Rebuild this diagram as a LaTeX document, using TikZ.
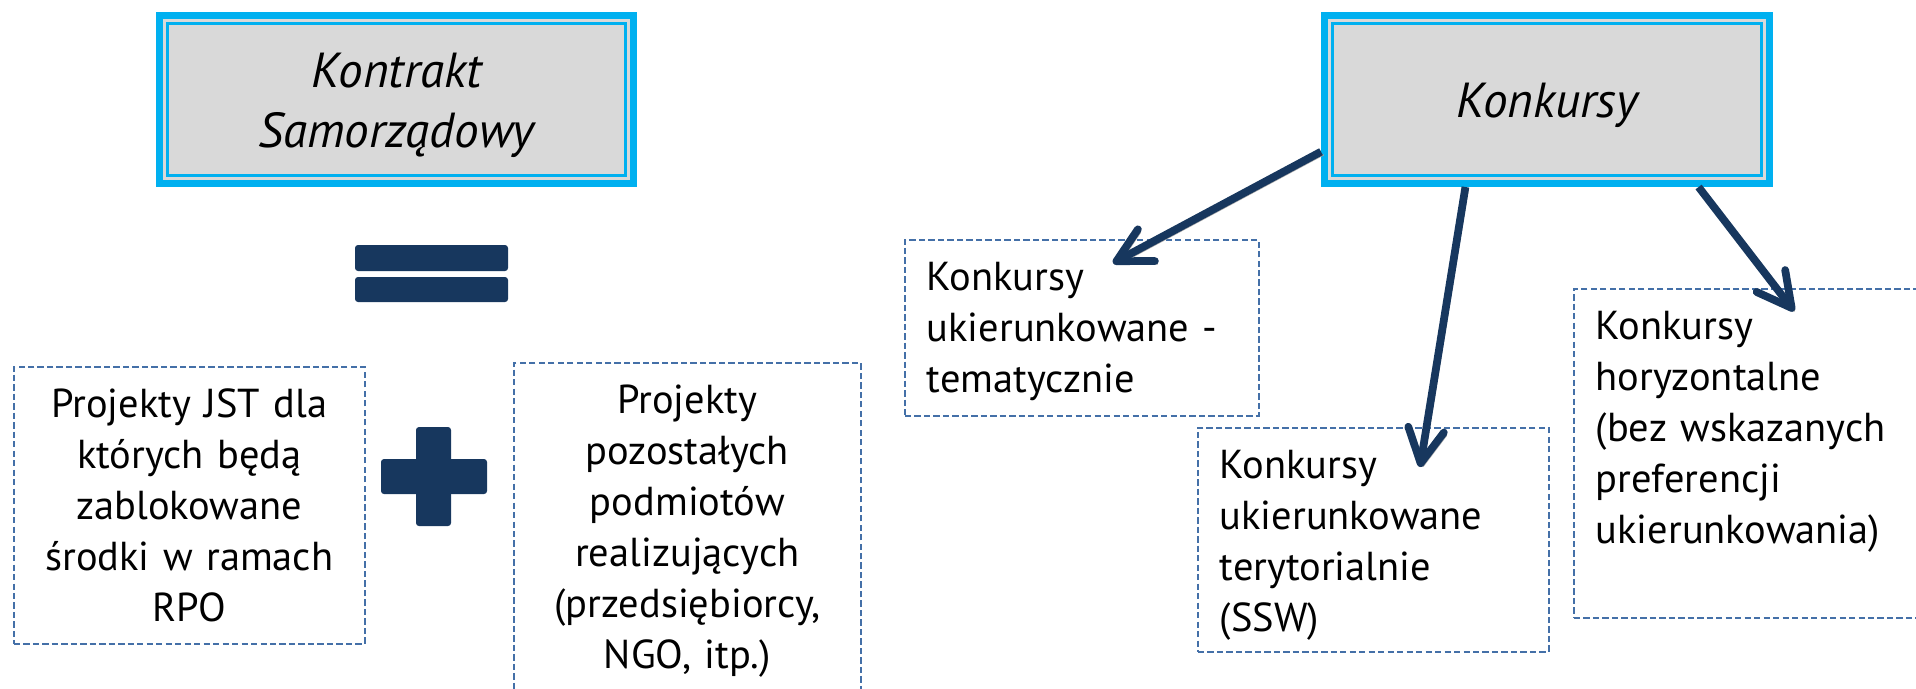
\documentclass[tikz,border=0pt]{standalone}
\usepackage{fontspec}
\setmainfont{PT Sans}
\usetikzlibrary{arrows.meta,positioning}
\definecolor{mycyan}{RGB}{0,176,240}
\definecolor{mygray}{RGB}{217,217,217}
\definecolor{mynavy}{RGB}{23,55,94}
\definecolor{mydashblue}{RGB}{68,112,168}
\newcommand{\fontbox}{\fontsize{11.5}{14.5}\selectfont}
\newcommand{\fonttitle}{\fontsize{14}{17}\selectfont\itshape}
\newcommand{\heighttitle}{16.8mm}
\tikzset{
    common/.style={draw, rectangle, inner sep=0pt},
    title/.style={common, draw=mycyan, line width=0.7mm, fill=mygray, minimum height=\heighttitle,
        text width=40mm, text height=13pt, align=center, font=\fonttitle,
        path picture={
            \draw[mycyan, line width=0.25mm]
                ([shift={(0.8mm,-0.8mm)}]path picture bounding box.north west) rectangle
                ([shift={(-0.8mm,0.8mm)}]path picture bounding box.south east);
        }
    },
    box/.style={common, anchor=north west, draw=mydashblue, line width=0.45pt, dash pattern=on 1.8pt off 0.9pt,
        inner xsep=2.2mm, text height=14.5pt, font=\fontbox},
    arrow/.style={mynavy, line width=2.2pt, -{Straight Barb[length=3.4mm, width=3.6mm, round]},
        preaction={draw=black!35, transform canvas={xshift=0.25mm, yshift=-0.3mm}}}
}

\begin{document}
\begin{tikzpicture}[x=0.1mm, y=-0.1mm]
    \useasboundingbox (0,0) rectangle (1916,688);
    \clip (0,0) rectangle (1916,688);

    \path
        (396.5,99.5) node[title, minimum width=47.4mm] (kontrakt) {Kontrakt\\Samorządowy}
        to ++(1150.5,0) node[title, minimum width=44.5mm] (konkursy) {Konkursy};

    % equal and plus
    \fill[mynavy, rounded corners=0.3mm] (355,245) rectangle (508,271);
    \fill[mynavy, rounded corners=0.3mm] (355,277) rectangle (508,302);
    \fill[mynavy, rounded corners=0.3mm] (416,427) rectangle (451,526);
    \fill[mynavy, rounded corners=0.3mm] (381,459) rectangle (487,494);

    \node[box, align=center, text width=30.7mm, text depth=22.6mm] (jst) at (13,366)
        {Projekty JST dla\\których będą\\zablokowane\\środki w ramach\\RPO};
    \node[box, align=center, text width=30.3mm, text depth=29.2mm] (podmioty) at (513,362)
        {Projekty\\pozostałych\\podmiotów\\realizujących\\(przedsiębiorcy,\\NGO, itp.)};

    \node[box, align=left, text width=31mm, text depth=12.5mm] (tematyczne) at (904,239)
        {Konkursy\\ukierunkowane -\\tematycznie};
    \node[box, align=left, text width=30.7mm, text depth=17.3mm] (terytorialne) at (1197,427)
        {Konkursy\\ukierunkowane\\terytorialnie\\(SSW)};
    \node[box, align=left, text width=30.6mm, text depth=27.8mm] (horyzontalne) at (1573,288)
        {Konkursy\\horyzontalne\\(bez wskazanych\\preferencji\\ukierunkowania)};

    \draw[arrow] (konkursy.193) -- ([shift={(209,24)}]tematyczne.north west);
    \draw[arrow] (konkursy.227) -- ([shift={(223,40)}]terytorialne.north west);
    \draw[arrow] (konkursy.330) -- ([shift={(221,23)}]horyzontalne.north west);
\end{tikzpicture}
\end{document}
